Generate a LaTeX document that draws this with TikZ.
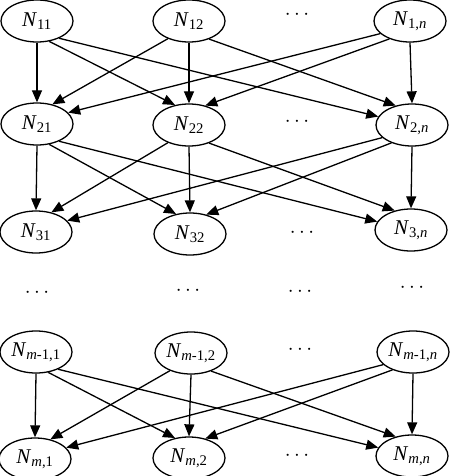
\documentclass[tikz,border=0pt]{standalone}
\usepackage{fontspec}
\setmainfont{Liberation Serif}
\usetikzlibrary{shapes.geometric,arrows.meta}
\newcommand\NN[1]{\textit{N}\textsubscript{#1}}
\begin{document}
\begin{tikzpicture}[x=1pt,y=-1pt,
  nd/.style={draw,ellipse,line width=1.3pt,minimum width=72pt,minimum height=42pt,inner sep=0pt,font=\fontsize{21}{25}\selectfont},
  dd/.style={inner sep=0pt,font=\fontsize{20}{24}\selectfont},
  ar/.style={line width=1.3pt,-{Triangle[length=12pt,width=10pt]}}]
\useasboundingbox (0,0) rectangle (454,476);
% row 1
\node[nd] (a1) at (37,21) {\NN{11}};
\node[nd] (a2) at (189,21) {\NN{12}};
\node[nd] (a3) at (410,21) {\NN{1,\textit{n}}};
\node[dd] (a0) at (297,15) {$\cdots$};
% row 2
\node[nd] (b1) at (37,124) {\NN{21}};
\node[nd] (b2) at (189,125) {\NN{22}};
\node[nd] (b3) at (412,125) {\NN{2,\textit{n}}};
\node[dd] (b0) at (297,122) {$\cdots$};
% row 3
\node[nd] (c1) at (36,232) {\NN{31}};
\node[nd] (c2) at (190,234) {\NN{32}};
\node[nd] (c3) at (411,230) {\NN{3,\textit{n}}};
\node[dd] (c0) at (302,233) {$\cdots$};
% dots row
\node[dd] (x1) at (37,293) {$\cdots$};
\node[dd] (x2) at (188,291) {$\cdots$};
\node[dd] (x3) at (300,292) {$\cdots$};
\node[dd] (x4) at (412,288) {$\cdots$};
% row m-1
\node[nd] (d1) at (36,352) {\NN{\textit{m}-1,1}};
\node[nd] (d2) at (191,353) {\NN{\textit{m}-1,2}};
\node[nd] (d3) at (413,352) {\NN{\textit{m}-1,\textit{n}}};
\node[dd] (d0) at (300,350) {$\cdots$};
% row m
\node[nd] (e1) at (35,459) {\NN{\textit{m},1}};
\node[nd] (e2) at (189,458) {\NN{\textit{m},2}};
\node[nd] (e3) at (412,456) {\NN{\textit{m},\textit{n}}};
\node[dd] (e0) at (297,456) {$\cdots$};
% edges
\foreach \u/\l in {a/b,b/c,d/e}{
  \draw[ar] (\u1.-90) -- (\l1.90);
  \draw[ar] (\u1.-59) -- (\l2.125);
  \draw[ar] (\u1.-38) -- (\l3.166);
  \draw[ar] (\u2.-140) -- (\l1.52);
  \draw[ar] (\u2.-90) -- (\l2.90);
  \draw[ar] (\u2.-42) -- (\l3.130);
  \draw[ar] (\u3.-157) -- (\l1.20);
  \draw[ar] (\u3.-139) -- (\l2.50);
  \draw[ar] (\u3.-90) -- (\l3.90);
}
\end{tikzpicture}
\end{document}
